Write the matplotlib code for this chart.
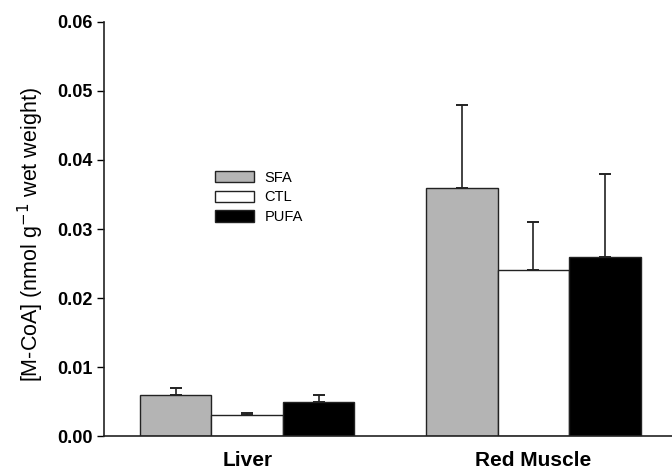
import matplotlib as mpl
import matplotlib.pyplot as plt
from matplotlib.patches import Patch
import numpy as np

mpl.rcParams.update({
    "font.family": ["Liberation Sans", "DejaVu Sans"],
})

tissues = ["Liver", "Red Muscle"]
diets = ["SFA", "CTL", "PUFA"]
means = {
    "SFA": [0.006, 0.036],
    "CTL": [0.003, 0.024],
    "PUFA": [0.005, 0.026],
}
errors = {
    "SFA": [0.001, 0.012],
    "CTL": [0.0004, 0.007],
    "PUFA": [0.001, 0.012],
}
face = {"SFA": "#b4b4b4", "CTL": "#ffffff", "PUFA": "#000000"}
yticks = [0.00, 0.01, 0.02, 0.03, 0.04, 0.05, 0.06]

fig = plt.figure(figsize=(6.72, 4.71), dpi=100)
ax = fig.add_axes([0.155, 0.0743, 0.845, 0.879])

centers = np.array([0, 4])
for i, d in enumerate(diets):
    xs = centers + (i - 1)
    ax.bar(xs, means[d], width=1.0, color=face[d], edgecolor="#222222",
           linewidth=1.0, zorder=2)
    ax.errorbar(xs, means[d], yerr=[np.zeros(2), errors[d]], fmt="none",
                ecolor="#222222", elinewidth=1.2, capsize=4.5, capthick=1.4, zorder=3)

ax.set_xlim(-2, 5.94)
ax.set_ylim(0, 0.06)
ax.set_yticks(yticks)
ax.set_yticklabels([f"{t:.2f}" for t in yticks], fontsize=13, fontweight="bold")
ax.set_xticks(centers)
ax.set_xticklabels(tissues, fontsize=15, fontweight="bold")
ax.tick_params(axis="x", length=0, pad=11)
ax.tick_params(axis="y", direction="out", length=5, width=1.0, pad=3)
ax.spines["top"].set_visible(False)
ax.spines["right"].set_visible(False)
for s in ("left", "bottom"):
    ax.spines[s].set_linewidth(1.2)
    ax.spines[s].set_color("#222222")

ax.set_ylabel("[M-CoA] (nmol g$^{-1}$ wet weight)", fontsize=15.5)
ax.yaxis.set_label_coords(-0.102, 0.486)

handles = [Patch(facecolor=face[d], edgecolor="#222222", linewidth=1.0, label=d)
           for d in diets]
ax.legend(handles=handles, loc="upper left", bbox_to_anchor=(0.185, 0.655),
          frameon=False, fontsize=10.5, handlelength=2.7, handleheight=0.85,
          labelspacing=0.4, handletextpad=0.7, borderaxespad=0)

fig.savefig("out.png", dpi=100)
